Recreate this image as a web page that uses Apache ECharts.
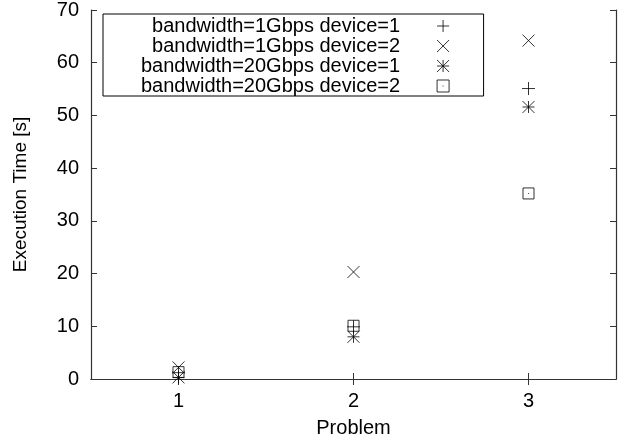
<!DOCTYPE html>
<html>
<head>
<meta charset="utf-8">
<script src="https://cdn.jsdelivr.net/npm/echarts@6/dist/echarts.min.js"></script>
<style>
html, body { margin: 0; padding: 0; background: #fff; }
#chart { width: 624px; height: 444px; }
</style>
</head>
<body>
<div id="chart"></div>
<script>
var problems = ['1', '2', '3'];
var names = [
    'bandwidth=1Gbps device=1',
    'bandwidth=1Gbps device=2',
    'bandwidth=20Gbps device=1',
    'bandwidth=20Gbps device=2'
];
var bw1dev1 = [1.2, 9.9, 55.1];
var bw1dev2 = [2.2, 20.3, 64.2];
var bw20dev1 = [0.3, 8.0, 51.6];
var bw20dev2 = [1.3, 10.1, 35.2];
var yTicks = [0, 10, 20, 30, 40, 50, 60, 70];

// gnuplot style point shapes
var plus = 'path://M0 5 L10 5 M5 0 L5 10';
var cross = 'path://M0 0 L10 10 M10 0 L0 10';
var star = 'path://M0 5 L10 5 M5 0 L5 10 M0 0 L10 10 M10 0 L0 10';
var box = 'path://M0 0 L10 0 L10 10 L0 10 Z M5 4.6 L5 5.4';

var font = 'Liberation Sans, Arial, sans-serif';
var fs = 20;
var pointStyle = { color: 'transparent', borderColor: '#000', borderWidth: 1 };

function series(name, values, symbol, size) {
    return {
        name: name,
        type: 'scatter',
        symbol: symbol,
        symbolSize: size,
        itemStyle: pointStyle,
        emphasis: { disabled: true },
        data: values
    };
}

var chart = echarts.init(document.getElementById('chart'));
var frame = { show: true, lineStyle: { color: '#333', width: 1.2 } };
var tick = { show: true, alignWithLabel: true, inside: true, length: 6, lineStyle: { color: '#333' } };

var option = {
    animation: false,
    grid: { left: 91, right: 8, top: 9, bottom: 65 },
    legend: {
        orient: 'vertical',
        left: 103,
        top: 14,
        align: 'right',
        padding: [2, 34, 0, 38],
        borderColor: '#000',
        borderWidth: 1,
        itemWidth: 76,
        itemHeight: 12,
        itemGap: 0,
        selectedMode: false,
        textStyle: { fontFamily: font, fontSize: fs, color: '#000', lineHeight: 19.5 },
        data: names.map(function (n) {
            return { name: n, itemStyle: pointStyle };
        })
    },
    xAxis: [{
        type: 'category',
        data: problems,
        boundaryGap: true,
        name: 'Problem',
        nameLocation: 'middle',
        nameGap: 39,
        nameTextStyle: { fontFamily: font, fontSize: fs, color: '#000' },
        axisLine: frame,
        axisTick: tick,
        axisLabel: { fontFamily: font, fontSize: fs, color: '#000', margin: 12 },
        splitLine: { show: false }
    }, {
        type: 'category',
        data: problems,
        position: 'top',
        boundaryGap: true,
        axisLine: frame,
        axisTick: tick,
        axisLabel: { show: false }
    }],
    yAxis: [{
        type: 'value',
        min: yTicks[0],
        max: yTicks[yTicks.length - 1],
        interval: 10,
        name: 'Execution Time [s]',
        nameLocation: 'middle',
        nameGap: 61,
        nameTextStyle: { fontFamily: font, fontSize: 19, color: '#000' },
        axisLine: frame,
        axisTick: tick,
        axisLabel: { fontFamily: font, fontSize: fs, color: '#000', margin: 12 },
        splitLine: { show: false }
    }, {
        type: 'value',
        position: 'right',
        min: yTicks[0],
        max: yTicks[yTicks.length - 1],
        interval: 10,
        axisLine: frame,
        axisTick: tick,
        axisLabel: { show: false },
        splitLine: { show: false }
    }],
    series: [
        series(names[0], bw1dev1, plus, 13),
        series(names[1], bw1dev2, cross, 12),
        series(names[2], bw20dev1, star, 12),
        series(names[3], bw20dev2, box, 11)
    ]
};

chart.setOption(option);
</script>
</body>
</html>
